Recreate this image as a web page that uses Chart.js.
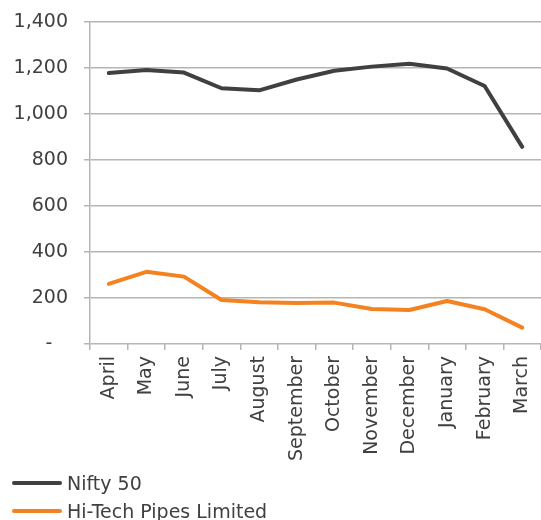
<!DOCTYPE html>
<html>
<head>
<meta charset="utf-8">
<script src="https://cdn.jsdelivr.net/npm/chart.js@4"></script>
<style>
  html, body { margin: 0; padding: 0; background: #fff; }
  #wrap { width: 541px; height: 520px; position: relative; font-family: "DejaVu Sans", sans-serif; }
  #chartBox { width: 541px; height: 470px; position: relative; }
  #legend { position: absolute; left: 12px; top: 469px; }
  .item { display: flex; align-items: center; height: 28px; font-size: 19px; color: #404040; }
  .swatch { width: 50px; height: 4px; border-radius: 2px; margin-right: 5px; }
</style>
</head>
<body>
<div id="wrap">
  <div id="chartBox"><canvas id="chart"></canvas></div>
  <div id="legend"></div>
</div>
<script>
  const months = ['April', 'May', 'June', 'July', 'August', 'September', 'October', 'November', 'December', 'January', 'February', 'March'];
  const nifty50 = [1178, 1191, 1180, 1112, 1103, 1150, 1188, 1206, 1218, 1198, 1122, 857];
  const hiTechPipes = [261, 314, 293, 191, 181, 178, 180, 152, 148, 187, 151, 71];
  const yTicks = [0, 200, 400, 600, 800, 1000, 1200, 1400];

  const seriesNames = ['Nifty 50', 'Hi-Tech Pipes Limited'];
  const seriesColors = ['#404040', '#f58220'];

  const gridColor = '#b5b5b5';
  const textColor = '#404040';

  function el(id) { return document.getElementById(id); }

  const datasets = [nifty50, hiTechPipes].map((values, i) => ({
    label: seriesNames[i],
    data: values,
    borderColor: seriesColors[i],
    backgroundColor: seriesColors[i],
    borderWidth: 4,
    pointRadius: 0,
    tension: 0,
    borderCapStyle: 'round',
    borderJoinStyle: 'round',
    fill: false,
  }));

  new Chart(el('chart'), {
    type: 'line',
    data: { labels: months, datasets },
    options: {
      responsive: true,
      maintainAspectRatio: false,
      animation: false,
      layout: { padding: { top: 22, left: 0, right: 0, bottom: 0 } },
      plugins: { legend: { display: false }, tooltip: { enabled: false } },
      scales: {
        x: {
          offset: true,
          grid: { offset: true, drawOnChartArea: false, drawTicks: true, tickLength: 6, color: gridColor, lineWidth: 1.5 },
          border: { display: false },
          ticks: {
            color: textColor,
            font: { family: 'DejaVu Sans', size: 19 },
            minRotation: 90,
            maxRotation: 90,
            padding: 6,
            autoSkip: false,
          },
          afterFit(s) { s.height = 126; s.paddingRight = 0; s.paddingLeft = 0; },
        },
        y: {
          min: 0,
          max: 1400,
          afterBuildTicks(s) { s.ticks = yTicks.map(v => ({ value: v })); },
          grid: { color: gridColor, lineWidth: 1.5, tickLength: 6, drawTicks: true },
          border: { display: true, color: gridColor, width: 1.5 },
          ticks: {
            color: textColor,
            font: { family: 'DejaVu Sans', size: 19 },
            padding: 16,
            callback: v => v === 0 ? '-\u2002 ' : v.toLocaleString('en-US'),
          },
          afterFit(s) { s.width = 90; s.paddingTop = 0; },
        },
      },
    },
  });

  el('legend').innerHTML = seriesNames.map((name, i) =>
    `<div class="item"><span class="swatch" style="background:${seriesColors[i]}"></span>${name}</div>`
  ).join('');
</script>
</body>
</html>
